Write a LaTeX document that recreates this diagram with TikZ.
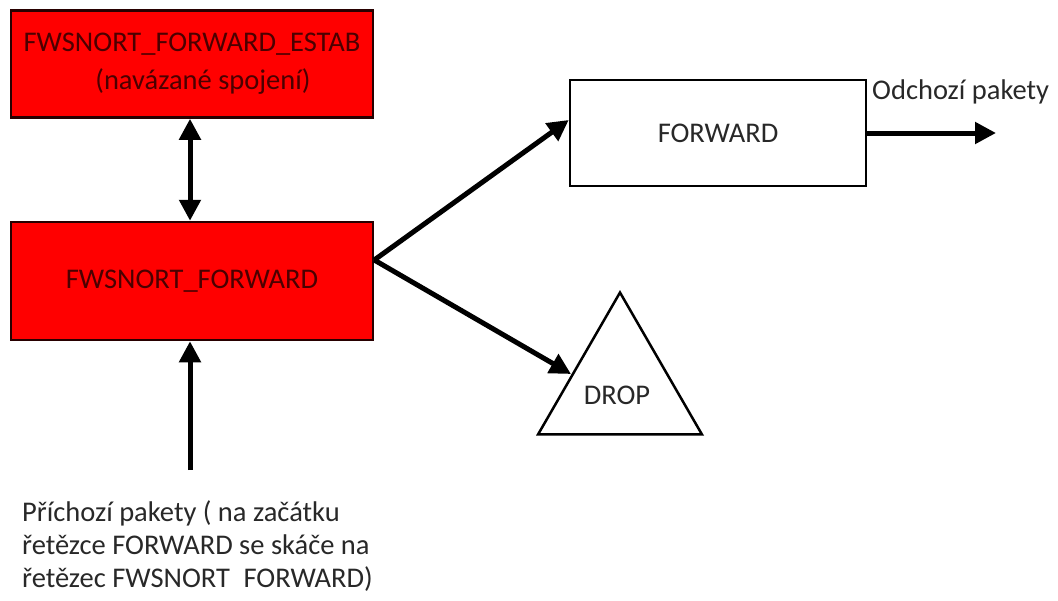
\documentclass[tikz,border=0pt]{standalone}
\usepackage{fontspec}
\setmainfont{Carlito}
\usetikzlibrary{arrows.meta,shapes.geometric}
\definecolor{boxred}{RGB}{255,0,0}
\definecolor{darkred}{RGB}{75,0,0}
\definecolor{txt}{RGB}{40,40,40}
\tikzset{
  redbox/.style={draw={rgb,255:red,40;green,0;blue,0},line width=2.5pt,fill=boxred,text=darkred,inner sep=0pt,align=center},
  whitebox/.style={draw=black,line width=2.5pt,fill=white,text=txt,inner sep=0pt},
  arr/.style={line width=5pt,-{Triangle[length=21pt,width=21pt]}},
  dbl/.style={line width=5pt,{Triangle[length=21pt,width=21pt]}-{Triangle[length=21pt,width=21pt]}},
  lbl/.style={text=txt,inner sep=0pt}
}
\begin{document}
\begin{tikzpicture}[x=1pt,y=-1pt,font=\fontsize{28.5}{33}\selectfont]
\useasboundingbox (0,0) rectangle (1058,600);
\node[redbox,minimum width=362pt,minimum height=107pt] (estab) at (192,64) {FWSNORT\_FORWARD\_ESTAB\\[5pt]\hspace*{22pt}(navázané spojení)};
\node[redbox,minimum width=362pt,minimum height=118pt] (fw) at (192,281) {FWSNORT\_FORWARD};
\node[whitebox,minimum width=296pt,minimum height=106pt] (forward) at (718,133) {FORWARD};
\node[whitebox,regular polygon,regular polygon sides=3,minimum size=189pt] (drop) at (620,387) {};
\node[lbl] (droptxt) at (617,395) {DROP};
\node[lbl,anchor=west] (out) at (872,92) {Odchozí pakety};
\node[lbl,anchor=north west,align=left] (in) at (22,500) {Příchozí pakety ( na začátku\\řetězce FORWARD se skáče na\\řetězec FWSNORT\hspace{0.25em} FORWARD)};
\coordinate (outend) at (996,133);
\coordinate (instart) at (190,470);
\coordinate (dropin) at (571,374);
\draw[dbl] (estab.south -| 190,0) -- (fw.north -| 190,0);
\draw[arr] (instart) -- (instart |- fw.south);
\draw[arr] ([yshift=21pt]fw.east) -- ([yshift=13pt]forward.west);
\draw[arr] ([yshift=21pt]fw.east) -- (dropin);
\draw[arr] (forward.east) -- (outend);
\end{tikzpicture}
\end{document}
